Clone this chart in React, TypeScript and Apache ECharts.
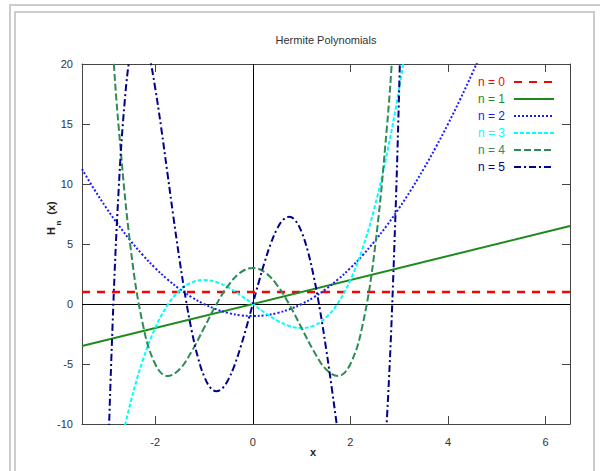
import React, { useEffect, useRef } from "react";
import * as echarts from "echarts";

const seriesNames = ["n = 0", "n = 1", "n = 2", "n = 3", "n = 4", "n = 5"];
const seriesColors = ["#ff0000", "#1e8a1e", "#1a1aff", "#00ffff", "#2e8b57", "#00008b"];

const xTicks = [-2, 0, 2, 4, 6];
const yTicks = [-10, -5, 0, 5, 10, 15, 20];

const h0: number[][] = [[-3.5, 1], [6.5, 1]];
const h1: number[][] = [[-3.5, -3.5], [6.5, 6.5]];
const h2: number[][] = [
  [-3.5, 11.25], [-3.25, 9.56], [-3, 8], [-2.75, 6.56], [-2.5, 5.25], [-2.25, 4.06],
  [-2, 3], [-1.75, 2.06], [-1.5, 1.25], [-1.25, 0.56], [-1, 0], [-0.75, -0.44],
  [-0.5, -0.75], [-0.25, -0.94], [0, -1], [0.25, -0.94], [0.5, -0.75], [0.75, -0.44],
  [1, 0], [1.25, 0.56], [1.5, 1.25], [1.75, 2.06], [2, 3], [2.25, 4.06], [2.5, 5.25],
  [2.75, 6.56], [3, 8], [3.25, 9.56], [3.5, 11.25], [3.75, 13.06], [4, 15],
  [4.25, 17.06], [4.5, 19.25], [4.75, 21.56],
];
const h3: number[][] = [
  [-2.75, -12.55], [-2.5, -8.13], [-2.25, -4.64], [-2, -2], [-1.75, -0.11], [-1.5, 1.13],
  [-1.25, 1.8], [-1, 2], [-0.75, 1.83], [-0.5, 1.38], [-0.25, 0.73], [0, 0],
  [0.25, -0.73], [0.5, -1.38], [0.75, -1.83], [1, -2], [1.25, -1.8], [1.5, -1.13],
  [1.75, 0.11], [2, 2], [2.25, 4.64], [2.5, 8.13], [2.75, 12.55], [3, 18], [3.25, 24.58],
];
const h4: number[][] = [
  [-3, 30], [-2.875, 21.73], [-2.75, 14.82], [-2.5, 4.56], [-2.25, -1.75], [-2, -5],
  [-1.75, -6], [-1.5, -5.44], [-1.25, -3.93], [-1, -2], [-0.75, -0.06], [-0.5, 1.56],
  [-0.25, 2.63], [0, 3], [0.25, 2.63], [0.5, 1.56], [0.75, -0.06], [1, -2],
  [1.25, -3.93], [1.5, -5.44], [1.75, -6], [2, -5], [2.25, -1.75], [2.5, 4.56],
  [2.75, 14.82], [2.875, 21.73], [3, 30],
];
const h5: number[][] = [
  [-3.125, -39.72], [-3, -18], [-2.875, -1.92], [-2.75, 9.44], [-2.625, 16.87],
  [-2.5, 21.09], [-2.375, 22.78], [-2.25, 22.49], [-2.125, 20.75], [-2, 18],
  [-1.875, 14.62], [-1.75, 10.93], [-1.625, 7.2], [-1.5, 3.66], [-1.375, 0.46],
  [-1.25, -2.27], [-1.125, -4.44], [-1, -6], [-0.875, -6.94], [-0.75, -7.27],
  [-0.625, -7.03], [-0.5, -6.28], [-0.375, -5.11], [-0.25, -3.59], [-0.125, -1.86],
  [0, 0], [0.125, 1.86], [0.25, 3.59], [0.375, 5.11], [0.5, 6.28], [0.625, 7.03],
  [0.75, 7.27], [0.875, 6.94], [1, 6], [1.125, 4.44], [1.25, 2.27], [1.375, -0.46],
  [1.5, -3.66], [1.625, -7.2], [1.75, -10.93], [1.875, -14.62], [2, -18],
  [2.125, -20.75], [2.25, -22.49], [2.375, -22.78], [2.5, -21.09], [2.625, -16.87],
  [2.75, -9.44], [2.875, 1.92], [3, 18], [3.125, 39.72],
];

const seriesData = [h0, h1, h2, h3, h4, h5];
const lineTypes: any[] = [[8, 7], "solid", [2, 2], [4, 2], [7, 3], [7, 3, 2, 3]];
const lineWidths = [2.5, 2, 2, 2, 2, 2];

const FONT = "Liberation Sans, Arial, sans-serif";

export default function App() {
  const ref = useRef<HTMLDivElement>(null);
  useEffect(() => {
    document.body.style.margin = "0";
    if (!ref.current) return;
    const chart = echarts.init(ref.current, undefined, { renderer: "svg" });
    const axisLineStyle = { color: "#444", width: 1 };
    const option: any = {
      animation: false,
      backgroundColor: "#fff",
      textStyle: { fontFamily: FONT },
      grid: { left: 82, right: 30, top: 64, bottom: 47 },
      legend: {
        orient: "vertical",
        align: "right",
        right: 45,
        top: 76,
        padding: 0,
        icon: "inherit",
        itemWidth: 40,
        itemHeight: 12,
        itemGap: 5,
        selectedMode: false,
        itemStyle: { opacity: 0 },
        textStyle: { fontSize: 12, lineHeight: 12, fontFamily: FONT, padding: [0, 4, 0, 0] },
        data: seriesNames.map((n, i) => ({ name: n, textStyle: { color: seriesColors[i] } })),
      },
      xAxis: [
        {
          type: "value", min: -3.5, max: 6.5, position: "bottom",
          axisLine: { show: true, onZero: false, lineStyle: axisLineStyle },
          axisTick: { show: true, inside: true, length: 8, lineStyle: axisLineStyle, customValues: xTicks },
          axisLabel: { show: true, color: "#333", fontSize: 11, margin: 12, fontFamily: FONT, customValues: xTicks },
          splitLine: { show: false },
        },
        {
          type: "value", min: -3.5, max: 6.5, position: "top",
          axisLine: { show: true, onZero: false, lineStyle: axisLineStyle },
          axisTick: { show: true, inside: true, length: 8, lineStyle: axisLineStyle, customValues: xTicks },
          axisLabel: { show: false },
          splitLine: { show: false },
        },
      ],
      yAxis: [
        {
          type: "value", min: -10, max: 20, interval: 5, position: "left",
          axisLine: { show: true, onZero: false, lineStyle: axisLineStyle },
          axisTick: { show: true, inside: true, length: 8, lineStyle: axisLineStyle, customValues: yTicks },
          axisLabel: { show: true, color: "#333", fontSize: 11, margin: 9, fontFamily: FONT, customValues: yTicks },
          splitLine: { show: false },
        },
        {
          type: "value", min: -10, max: 20, interval: 5, position: "right",
          axisLine: { show: true, onZero: false, lineStyle: axisLineStyle },
          axisTick: { show: true, inside: true, length: 8, lineStyle: axisLineStyle, customValues: yTicks },
          axisLabel: { show: false },
          splitLine: { show: false },
        },
      ],
      graphic: [
        { type: "rect", z: -10, shape: { x: 10, y: 5, width: 640, height: 520 }, style: { fill: "none", stroke: "#cccccc", lineWidth: 2 } },
        { type: "rect", z: -10, shape: { x: 15, y: 12, width: 579, height: 520 }, style: { fill: "none", stroke: "#cccccc", lineWidth: 2 } },
        { type: "text", x: 326, y: 40, style: { text: "Hermite Polynomials", fill: "#333", font: `11px ${FONT}`, textAlign: "center", textVerticalAlign: "middle" } },
        { type: "text", x: 313, y: 452, style: { text: "x", fill: "#222", font: `bold 11px ${FONT}`, textAlign: "center", textVerticalAlign: "middle" } },
        { type: "text", x: 51, y: 231, rotation: Math.PI / 2, style: { text: "H", fill: "#222", font: `bold 11px ${FONT}`, textAlign: "center", textVerticalAlign: "middle" } },
        { type: "text", x: 58, y: 223, rotation: Math.PI / 2, style: { text: "n", fill: "#222", font: `bold 8px ${FONT}`, textAlign: "center", textVerticalAlign: "middle" } },
        { type: "text", x: 51, y: 208, rotation: Math.PI / 2, style: { text: "(x)", fill: "#222", font: `bold 11px ${FONT}`, textAlign: "center", textVerticalAlign: "middle" } },
      ],
      series: seriesData.map((d, i) => ({
        name: seriesNames[i],
        type: "line",
        xAxisIndex: 0,
        yAxisIndex: 0,
        data: d,
        smooth: i >= 2 ? 0.4 : false,
        symbol: "none",
        showSymbol: false,
        clip: true,
        color: seriesColors[i],
        lineStyle: { color: seriesColors[i], width: lineWidths[i], type: lineTypes[i] },
        z: 3 + i,
        markLine: i === 0 ? {
          silent: true,
          symbol: ["none", "none"],
          label: { show: false },
          lineStyle: { color: "#000", width: 1, type: "solid" },
          z: 1,
          data: [{ xAxis: 0 }, { yAxis: 0 }],
        } : undefined,
      })),
    };
    chart.setOption(option);
    return () => chart.dispose();
  }, []);
  return <div ref={ref} style={{ width: 600, height: 471 }} />;
}
